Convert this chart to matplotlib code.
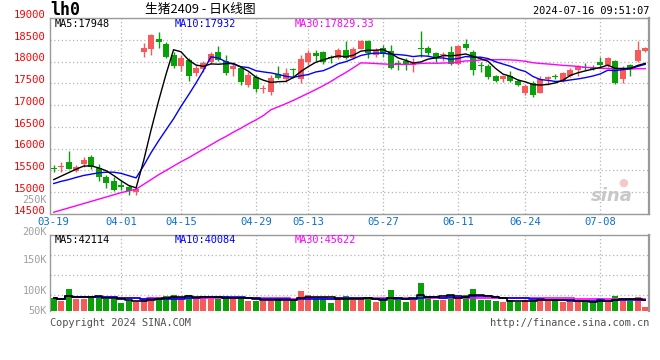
import matplotlib
matplotlib.use('Agg')
import matplotlib.pyplot as plt
from matplotlib.transforms import ScaledTranslation
import numpy as np
import pandas as pd

# ---------------- data ----------------
dates = ["03-19","03-20","03-21","03-22","03-25","03-26","03-27","03-28","03-29",
         "04-01","04-02","04-03","04-08","04-09","04-10","04-11","04-12","04-15","04-16","04-17",
         "04-18","04-19","04-22","04-23","04-24","04-25","04-26","04-29","04-30",
         "05-06","05-07","05-08","05-09","05-10","05-13","05-14","05-15","05-16","05-17",
         "05-20","05-21","05-22","05-23","05-24","05-27","05-28","05-29","05-30","05-31",
         "06-03","06-04","06-05","06-06","06-07","06-11","06-12","06-13","06-14",
         "06-17","06-18","06-19","06-20","06-21","06-24","06-25","06-26","06-27","06-28",
         "07-01","07-02","07-03","07-04","07-05","07-08","07-09","07-10","07-11","07-12",
         "07-15","07-16"]

opens = [15560,15580,15690,15480,15650,15800,15550,15340,15250,15170,15110,15000,18230,18290,18510,18400,18150,17890,18040,17740,
         17830,17980,18230,18010,17830,17850,17460,17640,17370,17290,17710,17590,17820,17590,18000,18190,18210,18100,18080,18260,
         18090,18290,18470,18150,18300,18240,17950,18010,17920,18290,18300,18190,18150,18210,17940,18400,18230,17910,17900,17660,
         17590,17660,17560,17280,17510,17280,17610,17650,17560,17660,17810,17870,17870,17990,17920,18010,17590,17920,18020,18240]
highs = [15630,15690,15940,15630,15810,15850,15650,15400,15360,15250,15170,15130,18420,18640,18670,18440,18210,18140,18080,17920,
         18010,18230,18360,18150,17940,17890,17750,17700,17470,17680,17890,17860,17860,18140,18270,18270,18240,18150,18320,18470,
         18330,18500,18500,18320,18380,18380,18040,18080,18090,18700,18360,18230,18210,18360,18390,18510,18260,17980,17940,17700,
         17700,17790,17610,17490,17550,17660,17660,17710,17760,17850,17910,17960,17930,18110,18110,18040,17890,17940,18470,18330]
lows = [15460,15460,15530,15460,15590,15540,15250,15090,15020,15050,14930,14940,18110,18150,18320,18080,17860,17790,17550,17660,
        17770,17940,18010,17680,17660,17470,17410,17300,17280,17240,17600,17530,17620,17510,17920,18020,17940,17960,18070,18070,
        18070,18280,18090,18110,18110,17830,17810,17810,17750,18110,18140,18000,18020,17910,17930,18260,17700,17770,17610,17530,
        17530,17540,17430,17230,17180,17270,17470,17590,17540,17640,17660,17810,17810,17860,17880,17490,17510,17670,18000,18230]
closes = [15540,15600,15540,15590,15730,15570,15360,15220,15040,15130,15030,15080,18320,18600,18440,18110,17890,18080,17660,17860,
          17960,18170,18040,17730,17890,17530,17700,17360,17380,17630,17620,17730,17810,18070,18190,18120,18000,18080,18260,18090,
          18290,18470,18190,18260,18170,17860,17940,17910,17960,18280,18190,18080,18170,17940,18360,18320,17810,17900,17640,17550,
          17660,17560,17470,17430,17240,17600,17640,17640,17730,17810,17890,17860,17840,17920,18080,17510,17860,17850,18260,18310]
volumes = [43000,35000,65000,40000,40000,46000,46000,40000,40000,31000,35000,32000,40000,46000,46000,48000,50000,40000,50000,42000,
           46000,40000,40000,48000,40000,43000,35000,35000,35000,35000,43000,35000,35000,60000,50000,40000,40000,31000,43000,48000,
           37000,37000,43000,33000,37000,62000,37000,33000,37000,79000,42000,37000,37000,50000,50000,50000,65000,37000,37000,35000,
           33000,37000,33000,37000,37000,43000,37000,37000,33000,33000,33000,33000,33000,43000,35000,48000,37000,35000,46000,21000]

ma5_head = [15290, 15370, 15450, 15530]
ma10_head = [15200, 15250, 15290, 15340, 15385, 15415, 15445, 15460, 15460]
ma30_head = [14540, 14590, 14640, 14690, 14740, 14790, 14840, 14890, 14940, 14990, 15030, 15070,
             15180, 15290, 15400, 15500, 15600, 15700, 15790, 15890, 15990, 16090, 16190, 16280,
             16380, 16470, 16570, 16660, 16760]

tick_dates = ["03-19", "04-01", "04-15", "04-29", "05-13", "05-27", "06-11", "06-24", "07-08"]
price_ticks = [14500, 15000, 15500, 16000, 16500, 17000, 17500, 18000, 18500, 19000]
vol_labels = ["250K", "200K", "150K", "100K", "50K"]
vol_grid = [50000, 100000, 150000]

title = "生猪2409 - 日K线图"
symbol = "lh0"
stamp = "2024-07-16 09:51:07"
price_ma_text = ["MA5:17948", "MA10:17932", "MA30:17829.33"]
vol_ma_text = ["MA5:42114", "MA10:40084", "MA30:45622"]

# ---------------- derived ----------------
o = np.array(opens, float); h = np.array(highs, float)
l = np.array(lows, float); c = np.array(closes, float)
v = np.array(volumes, float)
n = len(c)
x = np.arange(n)
cs = pd.Series(c)
ma5 = cs.rolling(5).mean().to_numpy(); ma5[:len(ma5_head)] = ma5_head
ma10 = cs.rolling(10).mean().to_numpy(); ma10[:len(ma10_head)] = ma10_head
ma30 = cs.rolling(30).mean().to_numpy(); ma30[:len(ma30_head)] = ma30_head
vs = pd.Series(v)
vma5 = vs.rolling(5, min_periods=1).mean().to_numpy()
vma10 = vs.rolling(10, min_periods=1).mean().to_numpy()
vma30 = vs.rolling(30, min_periods=1).mean().to_numpy()

RED = '#f85a5a'
GREEN = '#0aa00a'
GRID = '#b4b4b4'
SPINE = '#9a9a9a'
MONO = 'DejaVu Sans Mono'

W, H = 660, 360
fig = plt.figure(figsize=(6.6, 3.6), dpi=100)
fig.patch.set_facecolor('white')

def rect(lf, tp, rt, bt):
    return [lf / W, 1 - bt / H, (rt - lf) / W, (bt - tp) / H]

def ftext(px, py, s, **kw):
    fig.text(px / W, 1 - py / H, s, **kw)

ax = fig.add_axes(rect(50, 18, 649, 214))
axv = fig.add_axes(rect(50, 234.5, 649, 311))

# candles
up = c >= o
cols = np.where(up, RED, GREEN)
ax.vlines(x, l, h, colors=cols, lw=1, zorder=3)
body_b = np.minimum(o, c)
body_h = np.maximum(np.abs(c - o), 22)
ax.bar(x, body_h, bottom=body_b, width=0.8, color=cols, linewidth=0, zorder=4)

ax.plot(x, ma30, color='#ff00ff', lw=1, zorder=5)
ax.plot(x, ma10, color='#0000ff', lw=1, zorder=5)
ax.plot(x, ma5, color='black', lw=1, zorder=5)

ax.set_xlim(-0.5, n - 0.5)
ax.set_ylim(14500, 19000)
tpos = [dates.index(d) for d in tick_dates]
ax.set_xticks(tpos)
ax.set_xticklabels(tick_dates, fontsize=7.6, family=MONO, color='#0a70cc')
ax.set_yticks(price_ticks)
ax.set_yticklabels([str(p) for p in price_ticks], fontsize=7.6, family=MONO, color='#ff0000')
ax.tick_params(length=0, pad=3)
ax.tick_params(axis='x', pad=2)
for lab in ax.get_yticklabels():
    lab.set_transform(lab.get_transform() + ScaledTranslation(0, 3 / 72, fig.dpi_scale_trans))
ax.grid(True, color=GRID, linestyle=(0, (1, 2)), lw=0.9)
ax.xaxis.get_gridlines()[0].set_visible(False)
for s in ax.spines.values():
    s.set_color(SPINE)
    s.set_linewidth(1)
ax.spines['right'].set_linewidth(1.6)

# volume
axv.bar(x, v, width=0.8, color=cols, linewidth=0, zorder=3)
axv.plot(x, vma30, color='#ff00ff', lw=1.2, zorder=5, drawstyle='steps-mid')
axv.plot(x, vma10, color='#0000ff', lw=1.2, zorder=5, drawstyle='steps-mid')
axv.plot(x, vma5, color='black', lw=1.2, zorder=5, drawstyle='steps-mid')
axv.set_xlim(-0.5, n - 0.5)
axv.set_ylim(10000, 200000)
axv.set_yticks(vol_grid)
axv.set_yticklabels([])
axv.set_xticks(tpos)
axv.set_xticklabels([])
axv.tick_params(length=0)
axv.grid(True, color=GRID, linestyle=(0, (1, 2)), lw=0.9)
axv.xaxis.get_gridlines()[0].set_visible(False)
for s in axv.spines.values():
    s.set_color(SPINE)
    s.set_linewidth(1)
axv.spines['right'].set_linewidth(1.6)
axv.spines['bottom'].set_visible(False)

# volume axis labels (sina places them at these offsets)
for lab, py in zip(vol_labels, [200, 232, 260, 291, 311]):
    ftext(47, py, lab, ha='right', va='center', fontsize=7.4, family=MONO, color='#a0a0a0')

# header texts
ftext(50, 10, symbol, ha='left', va='center', fontsize=12, family=MONO, fontweight='bold', color='black')
ftext(200, 9.5, title, ha='center', va='center', fontsize=9.2,
      family=['Noto Sans CJK SC', 'DejaVu Sans'], color='black')
ftext(649, 11.5, stamp, ha='right', va='center', fontsize=7.4, family=MONO, color='black')

for txt, px, col in zip(price_ma_text, [55, 175, 295], ['black', '#0000ff', '#ff00ff']):
    ftext(px, 24, txt, ha='left', va='center', fontsize=7.4, family=MONO, color=col)
for txt, px, col in zip(vol_ma_text, [55, 175, 295], ['black', '#0000ff', '#ff00ff']):
    ftext(px, 240, txt, ha='left', va='center', fontsize=7.4, family=MONO, color=col)

# footer
ftext(50, 323.5, "Copyright 2024 SINA.COM", ha='left', va='center', fontsize=7.4, family=MONO, color='#505050')
ftext(649, 323.5, "http://finance.sina.com.cn", ha='right', va='center', fontsize=7.4, family=MONO, color='#505050')

# watermark
ftext(612, 196, "sina", ha='center', va='center', fontsize=13, fontweight='bold', style='italic',
      color='#c8c8c8', family='DejaVu Sans')
ftext(623, 183, "●", ha='center', va='center', fontsize=8, color='#f6c8c8', family='DejaVu Sans')

fig.savefig('out.png', dpi=100, facecolor='white')
